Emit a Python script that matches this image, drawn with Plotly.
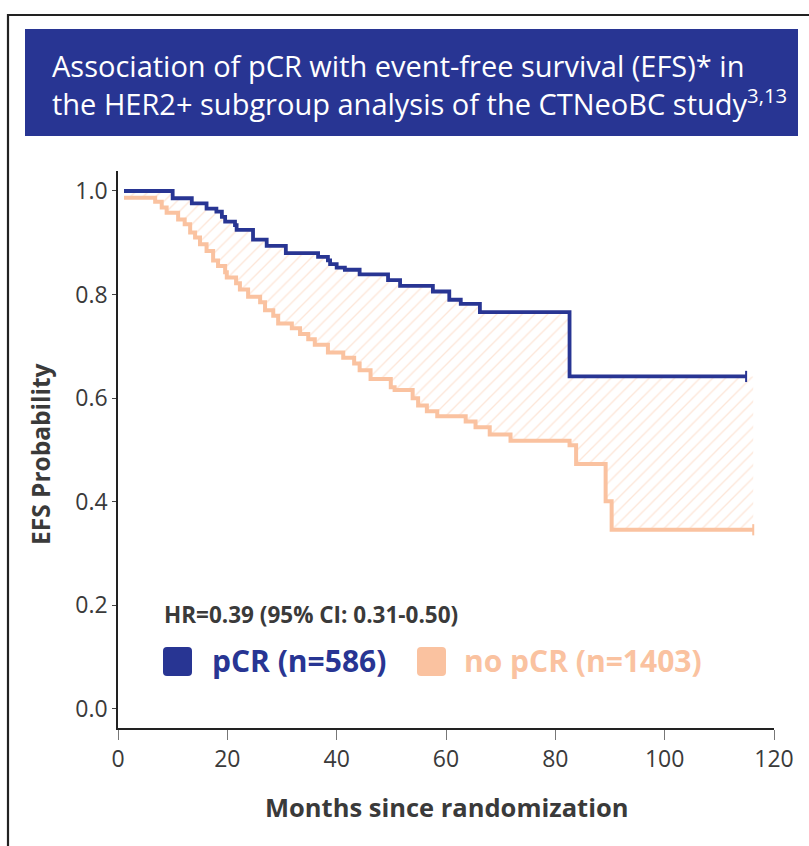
import plotly.graph_objects as go

# ---------------- data ----------------
months_pcr = [1.1, 10.0, 13.5, 16.2, 18.0, 19.0, 19.6, 21.4, 21.7, 24.7, 27.2, 30.7,
              36.6, 38.4, 38.8, 40.0, 41.5, 44.2, 49.4, 51.6, 57.6, 60.6, 62.7, 66.2,
              82.6, 114.9]
efs_pcr = [1.000, 0.986, 0.976, 0.966, 0.960, 0.950, 0.941, 0.934, 0.925, 0.906, 0.894, 0.880,
           0.873, 0.866, 0.859, 0.852, 0.848, 0.839, 0.828, 0.817, 0.806, 0.790, 0.782, 0.766,
           0.642, 0.642]

months_nopcr = [1.1, 6.8, 8.0, 8.9, 11.0, 12.2, 13.2, 14.1, 15.0, 16.2, 17.4, 18.3, 19.6, 19.9,
                21.6, 22.3, 23.8, 26.0, 26.9, 28.4, 29.3, 31.8, 33.3, 34.8, 36.0, 38.4, 41.2,
                43.2, 44.2, 46.2, 49.9, 50.6, 53.9, 54.9, 56.5, 58.4, 63.6, 65.4, 68.0, 71.8,
                82.6, 83.8, 89.2, 90.3, 116.2]
efs_nopcr = [0.987, 0.979, 0.968, 0.958, 0.945, 0.936, 0.920, 0.910, 0.897, 0.884, 0.866, 0.855,
             0.843, 0.833, 0.822, 0.810, 0.796, 0.785, 0.770, 0.759, 0.744, 0.735, 0.724, 0.714,
             0.703, 0.688, 0.678, 0.667, 0.654, 0.637, 0.621, 0.616, 0.600, 0.586, 0.575, 0.565,
             0.555, 0.544, 0.530, 0.518, 0.509, 0.473, 0.401, 0.346, 0.346]

x_ticks = [0, 20, 40, 60, 80, 100, 120]
y_ticks = [0.0, 0.2, 0.4, 0.6, 0.8, 1.0]
y_ticktext = ["0.0", "0.2", "0.4", "0.6", "0.8", "1.0"]

title_text = ("Association of pCR with event-free survival (EFS)* in<br>"
              "the HER2+ subgroup analysis of the CTNeoBC study<sup>3,13</sup>")
hr_text = "HR=0.39 (95% CI: 0.31-0.50)"
label_pcr = "pCR (n=586)"
label_nopcr = "no pCR (n=1403)"
x_title = "Months since randomization"
y_title = "EFS Probability"

# ---------------- style ----------------
BLUE = "#283593"
ORANGE = "#FAC2A0"
HATCH = "#FBCDB2"
TEXT = "#3a3a3a"
FONT = "Open Sans"

W, H = 809, 846
L, R, T, B = 118, 774, 171, 728


def px(x):
    return (x - L) / (R - L)


def py(y):
    return (B - y) / (B - T)


fig = go.Figure()

# hidden upper boundary of hatch (pCR curve carried to end of no-pCR follow-up)
fig.add_trace(go.Scatter(
    x=months_pcr[:-1] + [months_nopcr[-1]], y=efs_pcr[:-1] + [efs_pcr[-1]],
    mode="lines", line=dict(width=0, shape="hv", color="rgba(0,0,0,0)"),
    hoverinfo="skip", showlegend=False))

# no pCR curve with hatched area to pCR curve
fig.add_trace(go.Scatter(
    x=months_nopcr, y=efs_nopcr, mode="lines",
    line=dict(color=ORANGE, width=4, shape="hv"),
    fill="tonexty", fillcolor="rgba(0,0,0,0)",
    fillpattern=dict(shape="/", fgcolor=HATCH, bgcolor="rgba(255,255,255,0)",
                     size=9, solidity=0.15),
    name=label_nopcr, showlegend=False))

# pCR curve
fig.add_trace(go.Scatter(
    x=months_pcr, y=efs_pcr, mode="lines",
    line=dict(color=BLUE, width=3.8, shape="hv"),
    name=label_pcr, showlegend=False))

# censor ticks at the end of follow-up
fig.add_trace(go.Scatter(
    x=[months_nopcr[-1]], y=[efs_nopcr[-1]], mode="markers",
    marker=dict(symbol="line-ns", size=8, line=dict(color=ORANGE, width=2)),
    showlegend=False, hoverinfo="skip"))
fig.add_trace(go.Scatter(
    x=[months_pcr[-1]], y=[efs_pcr[-1]], mode="markers",
    marker=dict(symbol="line-ns", size=8, line=dict(color=BLUE, width=2)),
    showlegend=False, hoverinfo="skip"))

shapes = []
# outer frame
shapes.append(dict(type="path", xref="paper", yref="paper",
                   path=f"M {px(8)},{py(860)} L {px(8)},{py(15)} L {px(820)},{py(15)}",
                   line=dict(color="#222222", width=2.2)))
# title banner
shapes.append(dict(type="rect", xref="paper", yref="paper",
                   x0=px(25), x1=px(798), y0=py(136), y1=py(29),
                   fillcolor=BLUE, line=dict(width=0), layer="below"))


def rounded_square(x0, y0, size, r, color):
    x1, y1 = x0 + size, y0 + size
    p = (f"M {px(x0 + r)},{py(y0)} L {px(x1 - r)},{py(y0)} Q {px(x1)},{py(y0)} {px(x1)},{py(y0 + r)} "
         f"L {px(x1)},{py(y1 - r)} Q {px(x1)},{py(y1)} {px(x1 - r)},{py(y1)} "
         f"L {px(x0 + r)},{py(y1)} Q {px(x0)},{py(y1)} {px(x0)},{py(y1 - r)} "
         f"L {px(x0)},{py(y0 + r)} Q {px(x0)},{py(y0)} {px(x0 + r)},{py(y0)} Z")
    return dict(type="path", xref="paper", yref="paper", path=p,
                fillcolor=color, line=dict(width=0))


shapes.append(rounded_square(163, 647, 29, 4, BLUE))
shapes.append(rounded_square(417, 647, 29, 4, ORANGE))

annotations = [
    dict(text=title_text, x=px(50), y=py(84), xref="paper", yref="paper",
         xanchor="left", yanchor="middle", align="left", showarrow=False,
         font=dict(family=FONT, size=29, color="white")),
    dict(text=f"<b>{hr_text}</b>", x=px(162), y=py(614), xref="paper", yref="paper",
         xanchor="left", yanchor="middle", showarrow=False,
         font=dict(family=FONT, size=22.5, color=TEXT)),
    dict(text=f"<b>{label_pcr}</b>", x=px(210), y=py(660), xref="paper", yref="paper",
         xanchor="left", yanchor="middle", showarrow=False,
         font=dict(family=FONT, size=30, color=BLUE)),
    dict(text=f"<b>{label_nopcr}</b>", x=px(462), y=py(660), xref="paper", yref="paper",
         xanchor="left", yanchor="middle", showarrow=False,
         font=dict(family=FONT, size=30, color=ORANGE)),
    dict(text=f"<b>{x_title}</b>", x=px(447), y=py(807), xref="paper", yref="paper",
         xanchor="center", yanchor="middle", showarrow=False,
         font=dict(family=FONT, size=25.5, color=TEXT)),
    dict(text=f"<b>{y_title}</b>", x=px(40), y=py(454), xref="paper", yref="paper",
         xanchor="center", yanchor="middle", showarrow=False, textangle=-90,
         font=dict(family=FONT, size=24.5, color=TEXT)),
]

fig.update_layout(
    width=W, height=H,
    margin=dict(l=L, r=W - R, t=T, b=H - B, pad=0),
    paper_bgcolor="white", plot_bgcolor="white",
    shapes=shapes, annotations=annotations,
    font=dict(family=FONT, color=TEXT),
    xaxis=dict(range=[0, 120], tickvals=x_ticks, showgrid=False, zeroline=False,
               showline=True, linecolor="#222222", linewidth=1.5,
               ticks="outside", ticklen=10, tickwidth=1.3, tickcolor="#777777",
               tickfont=dict(family=FONT, size=23, color=TEXT)),
    yaxis=dict(range=[-0.0367, 1.0386], tickvals=y_ticks, ticktext=y_ticktext,
               showgrid=False, zeroline=False,
               showline=True, linecolor="#222222", linewidth=1.5,
               ticks="outside", ticklen=4, tickwidth=1.3, tickcolor="#444444",
               tickfont=dict(family=FONT, size=23, color=TEXT)),
)

fig.write_html("out.html")
